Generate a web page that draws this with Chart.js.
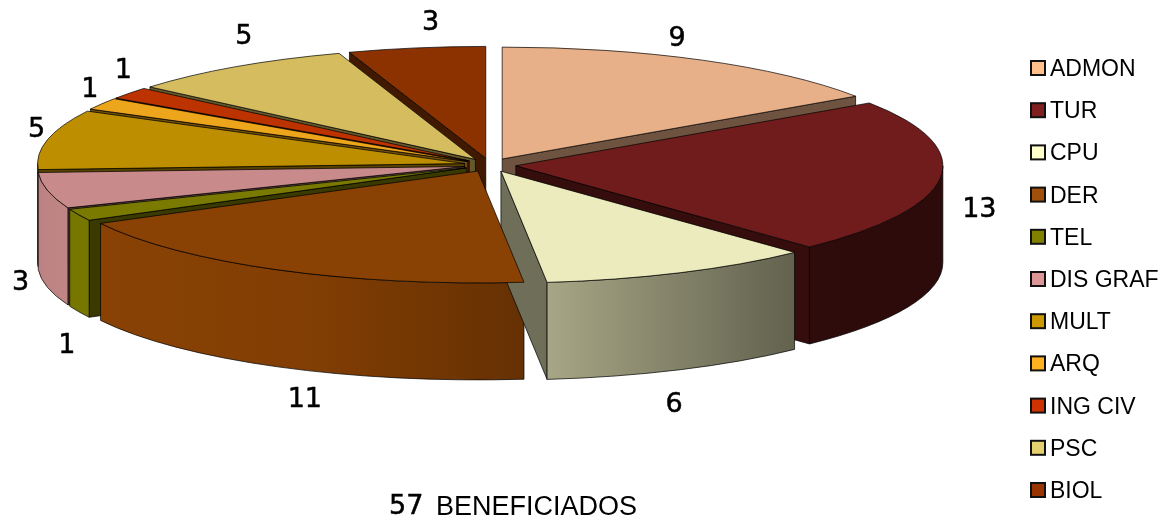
<!DOCTYPE html>
<html>
<head>
<meta charset="utf-8">
<style>html,body{margin:0;padding:0;background:#fff}canvas{display:block}</style>
<script src="https://cdn.jsdelivr.net/npm/chart.js@4"></script>
</head>
<body>
<canvas id="c" width="1161" height="520"></canvas>
<script>
const categories = ['ADMON','TUR','CPU','DER','TEL','DIS GRAF','MULT','ARQ','ING CIV','PSC','BIOL'];
const beneficiados = [9,13,6,11,1,3,5,1,1,5,3];
const topColors = ['#e8b088','#701c1c','#ecebbd','#8a4204','#7a7a00','#c88a8a','#bd8f00','#eda51b','#bd3300','#d5bd5f','#8b3200'];
const legendColors = ['#ffc08c','#7f1f1f','#ffffcc','#a0500a','#808000','#dc9696','#cc9900','#ffb020','#cc3300','#e5d070','#993300'];
const titleNumber = '57';
const titleWord = 'BENEFICIADOS';
const labelNudges = [[-25,-21],[39,32],[-6,132],[27,130],[-12,131],[-27,92],[-11,-10],[-12,-14],[-6,-22],[8,-30],[14,-25]];

const view = {cx:490, cy:165, squash:0.262, depth:97, explode:26};
const shadeStops = [[-1,0.96],[-0.88,1],[-0.4,0.93],[0.05,0.75],[0.7,0.42],[1,0.4]];

function rgb(hex){return [1,3,5].map(i=>parseInt(hex.substr(i,2),16));}
function dim(hex,f){const c=rgb(hex).map(v=>Math.round(v*f));return `rgb(${c[0]},${c[1]},${c[2]})`;}
function shadeAt(t){
  for(let i=1;i<shadeStops.length;i++){
    const a=shadeStops[i-1],b=shadeStops[i];
    if(t<=b[0]) return a[1]+(b[1]-a[1])*(t-a[0])/(b[0]-a[0]);
  }
  return 0.4;
}
function geom(arc){
  const p=arc.getProps(['startAngle','endAngle','outerRadius'],true);
  const mid=(p.startAngle+p.endAngle)/2;
  const ox=view.cx+Math.cos(mid)*view.explode, oy=view.cy+Math.sin(mid)*view.explode*view.squash;
  return {s:p.startAngle,e:p.endAngle,mid,r:p.outerRadius,ox,oy};
}
function facePath(ctx,g,ang,d){
  const x=g.ox+g.r*Math.cos(ang), y=g.oy+g.r*Math.sin(ang)*view.squash;
  ctx.beginPath();
  ctx.moveTo(g.ox,g.oy);ctx.lineTo(x,y);ctx.lineTo(x,y+d);ctx.lineTo(g.ox,g.oy+d);ctx.closePath();
}
const pie3d={
  id:'pie3d',
  afterDatasetsUpdate(chart){
    chart.getDatasetMeta(0).data.forEach(a=>{
      const mid=(a.startAngle+a.endAngle)/2;
      a.x+=Math.cos(mid)*view.explode;
      a.y+=Math.sin(mid)*view.explode;
    });
  },
  beforeDatasetsDraw(chart){
    const ctx=chart.ctx, meta=chart.getDatasetMeta(0);
    const order=meta.data.map((a,i)=>({a,i,g:geom(a)})).sort((p,q)=>Math.sin(p.g.mid)-Math.sin(q.g.mid));
    ctx.save();
    ctx.lineWidth=1;ctx.strokeStyle='rgba(0,0,0,0.7)';ctx.lineJoin='round';
    for(const {g,i} of order){
      const col=topColors[i], d=view.depth;
      if(Math.cos(g.s)<0){facePath(ctx,g,g.s,d);ctx.fillStyle=dim(col,0.47);ctx.fill();ctx.stroke();}
      if(Math.cos(g.e)>0){facePath(ctx,g,g.e,d);ctx.fillStyle=dim(col,0.47);ctx.fill();ctx.stroke();}
      const a0=Math.max(g.s,0), a1=Math.min(g.e,Math.PI);
      if(a1>a0){
        const x0=g.ox+g.r*Math.cos(a0), x1=g.ox+g.r*Math.cos(a1);
        const lo=Math.min(x0,x1), hi=Math.max(x0,x1);
        const grad=ctx.createLinearGradient(lo,0,hi,0);
        for(let k=0;k<=6;k++){
          const x=lo+(hi-lo)*k/6;
          grad.addColorStop(k/6,dim(col,shadeAt((x-view.cx)/g.r)));
        }
        ctx.beginPath();
        ctx.ellipse(g.ox,g.oy,g.r,g.r*view.squash,0,a0,a1,false);
        ctx.ellipse(g.ox,g.oy+d,g.r,g.r*view.squash,0,a1,a0,true);
        ctx.closePath();
        ctx.fillStyle=grad;ctx.fill();ctx.stroke();
      }
    }
    ctx.restore();
    const area=chart.chartArea;
    ctx.save();
    ctx.translate(view.cx,view.cy);ctx.scale(1,view.squash);
    ctx.translate(-(area.left+area.right)/2,-(area.top+area.bottom)/2);
  },
  afterDatasetsDraw(chart){
    const ctx=chart.ctx, meta=chart.getDatasetMeta(0);
    ctx.restore();
    ctx.save();
    ctx.lineWidth=1;ctx.strokeStyle='rgba(0,0,0,0.7)';ctx.lineJoin='round';
    meta.data.forEach(a=>{
      const g=geom(a);
      ctx.beginPath();
      ctx.moveTo(g.ox,g.oy);
      ctx.ellipse(g.ox,g.oy,g.r,g.r*view.squash,0,g.s,g.e,false);
      ctx.closePath();
      ctx.stroke();
    });
    ctx.fillStyle='#000';ctx.strokeStyle='#000';ctx.lineWidth=0.5;
    ctx.font='27px "DejaVu Sans"';ctx.textAlign='center';ctx.textBaseline='middle';
    meta.data.forEach((a,i)=>{
      const g=geom(a);
      const x=g.ox+g.r*Math.cos(g.mid)+labelNudges[i][0];
      const y=g.oy+g.r*Math.sin(g.mid)*view.squash+labelNudges[i][1];
      ctx.fillText(String(beneficiados[i]),x,y);
      ctx.strokeText(String(beneficiados[i]),x,y);
    });
    ctx.restore();
  },
  afterDraw(chart){
    const ctx=chart.ctx;
    ctx.save();
    ctx.textBaseline='alphabetic';ctx.textAlign='left';ctx.fillStyle='#000';
    ctx.font='23px "Liberation Sans"';
    categories.forEach((name,i)=>{
      const y=68+i*42.2;
      ctx.fillStyle=legendColors[i];ctx.fillRect(1031,y-7,14,14);
      ctx.lineWidth=2;ctx.strokeStyle='#111';ctx.strokeRect(1031,y-7,14,14);
      ctx.fillStyle='#000';ctx.fillText(name,1050,y+8);
    });
    ctx.font='27px "DejaVu Sans"';ctx.fillStyle='#000';ctx.strokeStyle='#000';ctx.lineWidth=0.5;
    ctx.fillText(titleNumber,389,514);ctx.strokeText(titleNumber,389,514);
    ctx.font='27px "Liberation Sans"';ctx.fillText(titleWord,436,515);
    ctx.restore();
  }
};
new Chart(document.getElementById('c'),{
  type:'pie',
  data:{labels:categories,datasets:[{data:beneficiados,backgroundColor:topColors,borderWidth:0,radius:427,clip:false}]},
  options:{responsive:false,animation:false,
    plugins:{legend:{display:false},tooltip:{enabled:false},title:{display:false}}},
  plugins:[pie3d]
});
</script>
</body>
</html>
